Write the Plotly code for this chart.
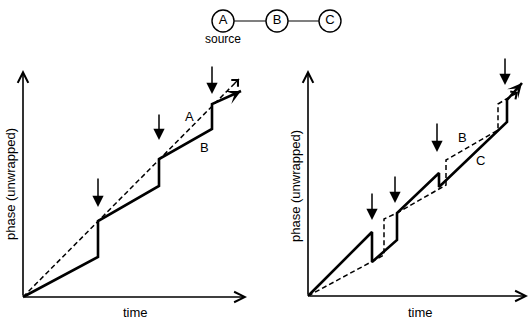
import plotly.graph_objects as go

W, H = 531, 323
FONT = "Liberation Sans, Arial, Helvetica, sans-serif"

# ---------------- data (time, unwrapped phase) ----------------
# Left panel: A (source, dashed) and B (solid)
left_A_t = [0, 216]
left_A_ph = [0, 218]
left_B_t = [0, 75, 75, 136, 136, 189, 189, 218]
left_B_ph = [0, 40, 76, 111, 138, 168, 193, 206]
left_events_t = [75, 136, 189]
left_events_top = [120, 184, 232]
left_events_bot = [90, 157, 203]

# Right panel: B (dashed) and C (solid)
right_B_t = [0, 76, 76, 89, 138, 138, 190, 190, 210]
right_B_ph = [0, 41, 77, 83, 111, 136, 166, 192, 204]
right_C_t = [0, 64, 64, 89, 89, 131, 131, 199, 199, 214]
right_C_ph = [0, 64, 34, 56, 83, 123, 109, 174, 196, 213]
right_events_t = [64, 87, 129, 197]
right_events_top = [104, 121, 174, 239]
right_events_bot = [76, 93, 144, 211]

# Topology diagram
nodes = ["A", "B", "C"]
node_x = [223, 277, 330]
node_y = [21, 21, 21]

x_title = "time"
y_title = "phase (unwrapped)"

# ---------------- layout helpers ----------------
PAD = 4


def dom_x(ox, length):
    return [(ox - PAD) / W, (ox + length) / W]


def dom_y(oy_top, length):
    b = H - oy_top
    return [(b - PAD) / H, (b + length) / H]


fig = go.Figure()
solid = dict(color="black", width=2.6)
dashed = dict(color="black", width=1.5, dash="5px,3px")

fig.add_trace(go.Scatter(x=left_A_t, y=left_A_ph, mode="lines", line=dashed, xaxis="x", yaxis="y"))
fig.add_trace(go.Scatter(x=left_B_t, y=left_B_ph, mode="lines", line=solid, xaxis="x", yaxis="y"))
fig.add_trace(go.Scatter(x=right_B_t, y=right_B_ph, mode="lines", line=dashed, xaxis="x2", yaxis="y2"))
fig.add_trace(go.Scatter(x=right_C_t, y=right_C_ph, mode="lines", line=solid, xaxis="x2", yaxis="y2"))

# topology: links and nodes
fig.add_trace(go.Scatter(x=node_x, y=node_y, mode="lines", line=dict(color="black", width=1.2),
                         xaxis="x3", yaxis="y3"))
fig.add_trace(go.Scatter(x=node_x, y=node_y, mode="markers+text", text=nodes,
                         textfont=dict(family=FONT, size=13, color="black"),
                         textposition="middle center",
                         marker=dict(symbol="circle", size=22, color="white",
                                     line=dict(color="black", width=1.4)),
                         xaxis="x3", yaxis="y3"))

ann = []


def arrow(x, y, ax, ay, xr, yr, head, width, size=1.0):
    ann.append(dict(x=x, y=y, ax=ax, ay=ay, xref=xr, yref=yr, axref=xr, ayref=yr,
                    showarrow=True, arrowhead=head, arrowwidth=width, arrowsize=size,
                    arrowcolor="black", standoff=0, text=""))


def label(x, y, t, xr, yr, size=13, angle=0):
    ann.append(dict(x=x, y=y, xref=xr, yref=yr, text=t, showarrow=False, textangle=angle,
                    font=dict(family=FONT, size=size, color="black")))


# axes arrows
arrow(224, 0, 0, 0, "x", "y", 5, 1.6, 1.3)
arrow(0, 227, 0, 0, "x", "y", 5, 1.6, 1.3)
arrow(220, 0, 0, 0, "x2", "y2", 5, 1.6, 1.3)
arrow(0, 226, 0, 0, "x2", "y2", 5, 1.6, 1.3)

# line-end arrowheads
arrow(left_A_t[-1], left_A_ph[-1], left_A_t[-1] - 6, left_A_ph[-1] - 6, "x", "y", 4, 1.3, 1.4)
arrow(left_B_t[-1], left_B_ph[-1], left_B_t[-1] - 8, left_B_ph[-1] - 4, "x", "y", 3, 2.4, 1.0)
arrow(right_B_t[-1], right_B_ph[-1], right_B_t[-1] - 6, right_B_ph[-1] - 4, "x2", "y2", 4, 1.3, 1.4)
arrow(right_C_t[-1], right_C_ph[-1], right_C_t[-1] - 6, right_C_ph[-1] - 7, "x2", "y2", 3, 2.4, 1.0)

# event arrows
for t, top, bot in zip(left_events_t, left_events_top, left_events_bot):
    arrow(t, bot, t, top, "x", "y", 2, 1.5, 1.5)
for t, top, bot in zip(right_events_t, right_events_top, right_events_bot):
    arrow(t, bot, t, top, "x2", "y2", 2, 1.5, 1.5)

# series labels
label(166, 180, "A", "x", "y")
label(181, 150, "B", "x", "y")
label(154, 159, "B", "x2", "y2")
label(172, 136, "C", "x2", "y2")

# axis titles and "source"
label(135, 312, x_title, "x3", "y3")
label(420, 312, x_title, "x3", "y3")
label(10, 184, y_title, "x3", "y3", angle=-90)
label(295, 186, y_title, "x3", "y3", angle=-90)
label(223, 39, "source", "x3", "y3", size=12)

hidden = dict(visible=False, showgrid=False, zeroline=False, fixedrange=True)
fig.update_layout(
    width=W, height=H, margin=dict(l=0, r=0, t=0, b=0),
    paper_bgcolor="white", plot_bgcolor="rgba(0,0,0,0)", showlegend=False,
    xaxis=dict(hidden, domain=dom_x(23, 224), range=[-PAD, 224], anchor="y"),
    yaxis=dict(hidden, domain=dom_y(297, 227), range=[-PAD, 227], anchor="x"),
    xaxis2=dict(hidden, domain=dom_x(308, 220), range=[-PAD, 220], anchor="y2"),
    yaxis2=dict(hidden, domain=dom_y(296, 226), range=[-PAD, 226], anchor="x2"),
    xaxis3=dict(hidden, domain=[0, 1], range=[0, W], anchor="y3"),
    yaxis3=dict(hidden, domain=[0, 1], range=[H, 0], anchor="x3"),
    annotations=ann,
)

fig.write_html("out.html")
